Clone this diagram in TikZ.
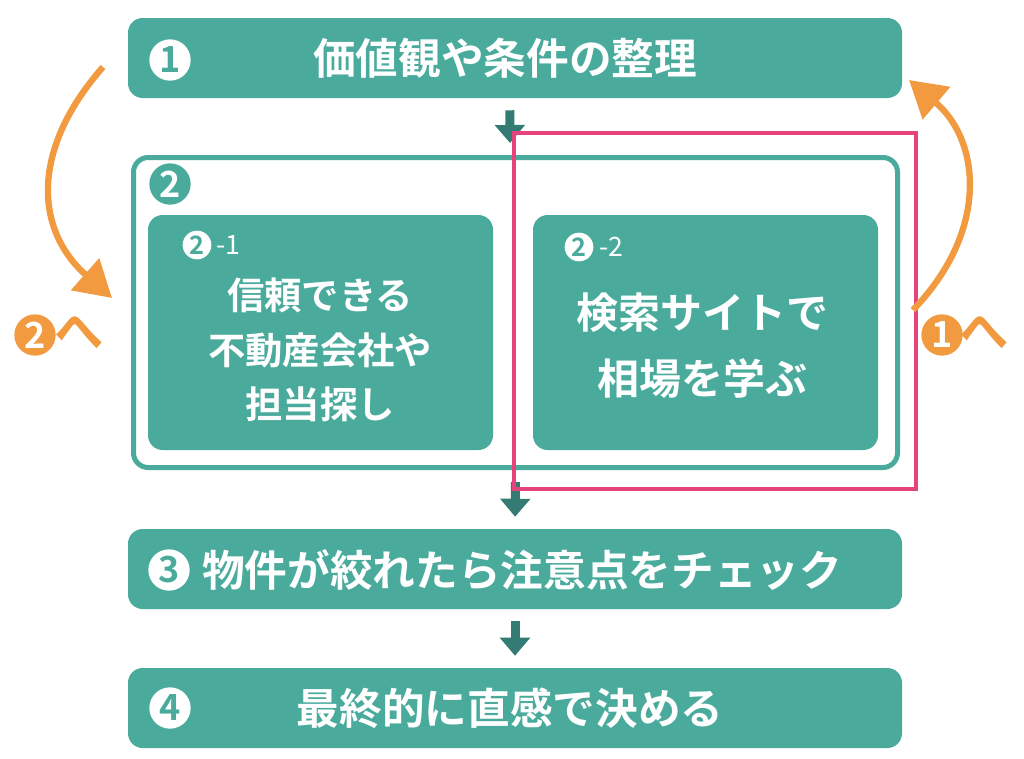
\documentclass[tikz,border=0pt]{standalone}
\usepackage{fontspec}
\setmainfont{Noto Sans CJK JP}[BoldFont={Noto Sans CJK JP Bold}]
\usetikzlibrary{arrows.meta}
\definecolor{boxteal}{HTML}{4AAB9D}
\definecolor{flowteal}{HTML}{347B74}
\definecolor{markpink}{HTML}{E6427B}
\definecolor{loopor}{HTML}{F29A40}

\begin{document}
\begin{tikzpicture}[x=0.75pt,y=-0.75pt]
      \tikzset{stepbar/.style={fill=boxteal, rounded corners=11pt, inner sep=0pt,
          minimum width=580.5pt, minimum height=60pt},
        subbox/.style={fill=boxteal, rounded corners=11pt, inner sep=0pt,
          minimum width=258.75pt, minimum height=176.25pt},
        groupbox/.style={draw=boxteal, line width=3.75pt, rounded corners=11pt,
          inner sep=0pt, minimum width=573pt, minimum height=232.5pt},
        numdot/.style={circle, fill=white, text=boxteal, inner sep=0pt,
          minimum size=31pt, font=\bfseries\fontsize{27}{27}\selectfont},
        subdot/.style={circle, fill=white, text=boxteal, inner sep=0pt,
          minimum size=21.5pt, font=\bfseries\fontsize{19}{19}\selectfont},
        subnum/.style={text=white, inner sep=0pt, anchor=west,
          font=\fontsize{20}{20}\selectfont},
        bartext/.style={text=white, inner sep=0pt,
          font=\bfseries\fontsize{32}{38}\selectfont},
        flow/.style={draw=flowteal, line width=6.75pt,
          -{Triangle[width=22pt,length=13.5pt]}, shorten <=9pt, shorten >=9pt},
        backarrow/.style={draw=loopor, line width=4.75pt,
          -{Triangle[width=31pt,length=27pt]}},
        odot/.style={circle, fill=loopor, text=white, inner sep=0pt,
          minimum size=31pt, font=\bfseries\fontsize{27}{27}\selectfont},
        otext/.style={text=loopor, inner sep=0pt,
          font=\bfseries\fontsize{37}{37}\selectfont}
      }
      \useasboundingbox (0,0) rectangle (1024,758);
      \node [stepbar] (S1) at (515,58) {};
      \node [groupbox] (S2) at (515.5,312.5) {};
      \node [subbox] (S21) at (320.5,332.5) {};
      \node [subbox] (S22) at (705.5,332.5) {};
      \node [stepbar] (S3) at (515,569) {};
      \node [stepbar] (S4) at (515,708) {};

      \node [numdot] (N1) at (170,60) {1};
      \node [numdot, fill=boxteal, text=white] (N2) at (170,184) {2};
      \node [numdot] (N3) at (169,570) {3};
      \node [numdot] (N4) at (170,708) {4};
      \node [bartext] (T1) at (505,58) {価値観や条件の整理};
      \node [bartext] (T3) at (522,570) {物件が絞れたら注意点をチェック};
      \node [bartext] (T4) at (510,708) {最終的に直感で決める};

      \node [subdot] (N21) at (197,245) {2};
      \node [subnum] (L21) at (216,245) {-1};
      \node [subdot] (N22) at (579,247) {2};
      \node [subnum] (L22) at (599,247) {-2};
      \node [bartext, align=center, font=\bfseries\fontsize{28}{41}\selectfont] (T21)
        at (320,350) {信頼できる\\不動産会社や\\担当探し};
      \node [bartext, align=center, font=\bfseries\fontsize{31.5}{49}\selectfont] (T22)
        at (702,345.5) {検索サイトで\\相場を学ぶ};

      \draw [flow] ([xshift=-4pt]S1.south) -- ([xshift=-4pt]S2.north);
      \draw [flow] (S2.south) -- (S3.north);
      \draw [flow] (S3.south) -- (S4.north);

      \draw [markpink, line width=3pt] (514,133) rectangle (915.5,489);

      \coordinate (L0) at (103,67);
      \coordinate (L1) at (112,298);
      \coordinate (R0) at (913,310);
      \coordinate (R1) at (909,80);
      \draw [backarrow] (L0) .. controls (30,150) and (35,230) .. (L1);
      \draw [backarrow] (R0) .. controls (990,230) and (980,140) .. (R1);
      \node [odot] (G2) at (35,335) {2};
      \node [otext] (H2) at (79,333) {へ};
      \node [odot] (G1) at (942,335) {1};
      \node [otext] (H1) at (984,333) {へ};
    \end{tikzpicture}
\end{document}
